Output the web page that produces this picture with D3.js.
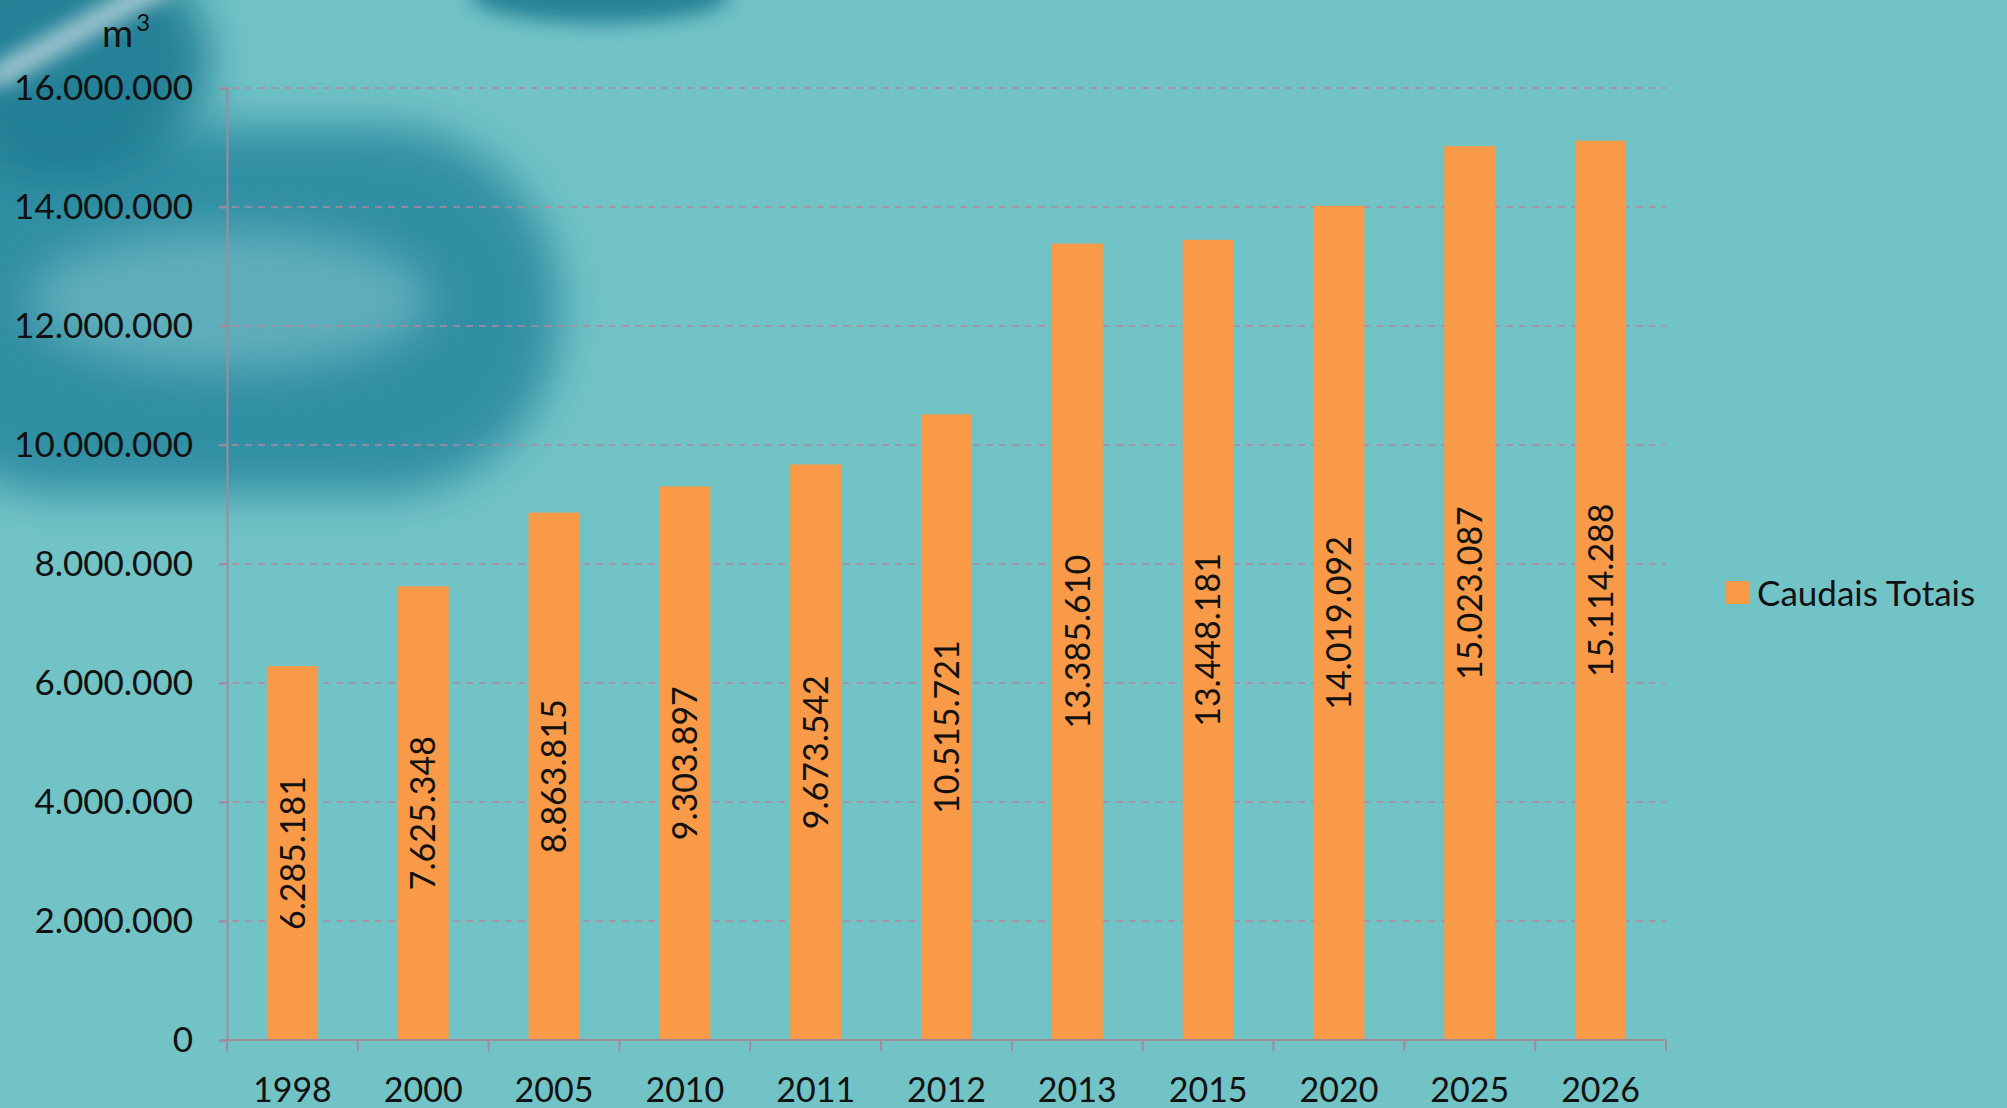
<!DOCTYPE html>
<html>
<head>
<meta charset="utf-8">
<script src="https://cdn.jsdelivr.net/npm/d3@7"></script>
<style>
  body { margin: 0; background: #72c3c6; }
  svg { display: block; }
</style>
</head>
<body>
<div id="chart"></div>
<script>
// chart data
var years   = ["1998", "2000", "2005", "2010", "2011", "2012", "2013", "2015", "2020", "2025", "2026"];
var caudais = [6285181, 7625348, 8863815, 9303897, 9673542, 10515721, 13385610, 13448181, 14019092, 15023087, 15114288];
var yTicks  = [0, 2000000, 4000000, 6000000, 8000000, 10000000, 12000000, 14000000, 16000000];
var seriesName = "Caudais Totais";

var width = 2007, height = 1108;
var margin = {top: 88, right: 341, bottom: 68, left: 227};
var font = "Lato, 'Open Sans', sans-serif";

var fmt = function(v) { return d3.format(",")(v).replace(/,/g, "."); };

var svg = d3.select("#chart").append("svg")
    .attr("width", width)
    .attr("height", height);

// background with soft dark blobs
var defs = svg.append("defs");
defs.append("filter").attr("id", "blur").attr("x", "-50%").attr("y", "-50%").attr("width", "200%").attr("height", "200%")
    .append("feGaussianBlur").attr("stdDeviation", 22);
defs.append("filter").attr("id", "blur2").attr("x", "-50%").attr("y", "-50%").attr("width", "200%").attr("height", "200%")
    .append("feGaussianBlur").attr("stdDeviation", 10);

svg.append("rect").attr("width", width).attr("height", height).attr("fill", "#72c3c6");

var bg = svg.append("g");
bg.append("rect").attr("x", -120).attr("y", 125).attr("width", 680).attr("height", 370).attr("rx", 180)
    .attr("fill", "#2a8aa0").attr("opacity", 0.9).attr("filter", "url(#blur)");
bg.append("ellipse").attr("cx", 230).attr("cy", 300).attr("rx", 200).attr("ry", 70)
    .attr("fill", "#7fc3cc").attr("opacity", 0.6).attr("filter", "url(#blur)");
bg.append("ellipse").attr("cx", 60).attr("cy", 60).attr("rx", 150).attr("ry", 120)
    .attr("fill", "#1f7a92").attr("opacity", 0.9).attr("filter", "url(#blur)");
bg.append("ellipse").attr("cx", 600).attr("cy", -5).attr("rx", 130).attr("ry", 28)
    .attr("fill", "#1f7a92").attr("opacity", 0.9).attr("filter", "url(#blur2)");
bg.append("line").attr("x1", -10).attr("y1", 80).attr("x2", 170).attr("y2", -20)
    .attr("stroke", "#dde9ec").attr("stroke-width", 22).attr("opacity", 0.75).attr("filter", "url(#blur2)");

var plotW = width - margin.left - margin.right;
var plotH = height - margin.top - margin.bottom;

var x = d3.scaleBand().domain(years).range([0, plotW]).paddingInner(0.61).paddingOuter(0.305);
var y = d3.scaleLinear().domain([0, 16000000]).range([plotH, 0]);

var g = svg.append("g").attr("transform", "translate(" + margin.left + "," + margin.top + ")");

// gridlines
g.append("g")
    .selectAll("line")
    .data(yTicks.filter(function(d) { return d > 0; }))
    .enter()
    .append("line")
    .attr("x1", -8)
    .attr("x2", plotW)
    .attr("y1", function(d) { return y(d); })
    .attr("y2", function(d) { return y(d); })
    .attr("stroke", "#b4869f")
    .attr("stroke-width", 1.6)
    .attr("stroke-dasharray", "7,6");

// bars
g.append("g")
    .selectAll("rect")
    .data(caudais)
    .enter()
    .append("rect")
    .attr("x", function(d, i) { return x(years[i]); })
    .attr("y", function(d) { return y(d); })
    .attr("width", x.bandwidth())
    .attr("height", function(d) { return plotH - y(d); })
    .attr("fill", "#f89a48");

// value labels, rotated inside the bars
g.append("g")
    .selectAll("text")
    .data(caudais)
    .enter()
    .append("text")
    .attr("transform", function(d, i) {
        var cx = x(years[i]) + x.bandwidth() / 2;
        var cy = (y(d) + plotH) / 2;
        return "translate(" + cx + "," + cy + ") rotate(-90)";
    })
    .attr("text-anchor", "middle")
    .attr("dy", "0.36em")
    .attr("font-family", font)
    .attr("font-size", 34)
    .attr("fill", "#111")
    .text(function(d) { return fmt(d); });

// y axis
var yAxis = g.append("g")
    .call(d3.axisLeft(y).tickValues(yTicks).tickFormat(fmt).tickSize(8).tickPadding(26));
yAxis.select(".domain").attr("stroke", "#a08a9c").attr("stroke-width", 2);
yAxis.selectAll(".tick line").attr("stroke", "#a08a9c").attr("stroke-width", 2);
yAxis.selectAll("text")
    .attr("font-family", font)
    .attr("font-size", 35)
    .attr("fill", "#111");

// x axis: ticks between categories
var xAxis = g.append("g").attr("transform", "translate(0," + plotH + ")");
xAxis.append("line").attr("x1", 0).attr("x2", plotW)
    .attr("stroke", "#a08a9c").attr("stroke-width", 2);
var bounds = d3.range(years.length + 1).map(function(i) { return i * x.step(); });
xAxis.selectAll(".sep")
    .data(bounds)
    .enter()
    .append("line")
    .attr("x1", function(d) { return d; })
    .attr("x2", function(d) { return d; })
    .attr("y1", 0)
    .attr("y2", 11)
    .attr("stroke", "#a08a9c")
    .attr("stroke-width", 2);
xAxis.selectAll(".lbl")
    .data(years)
    .enter()
    .append("text")
    .attr("x", function(d) { return x(d) + x.bandwidth() / 2; })
    .attr("y", 62)
    .attr("text-anchor", "middle")
    .attr("font-family", font)
    .attr("font-size", 34)
    .attr("fill", "#111")
    .text(function(d) { return d; });

// unit label
var unit = svg.append("text")
    .attr("x", 102)
    .attr("y", 47)
    .attr("font-family", font)
    .attr("font-size", 38)
    .attr("fill", "#111");
unit.append("tspan").text("m");
unit.append("tspan").attr("dx", 3).attr("dy", -16).attr("font-size", 24).text("3");

// legend
var legend = svg.append("g").attr("transform", "translate(1726,581)");
legend.append("rect").attr("width", 23).attr("height", 23).attr("fill", "#f89a48");
legend.append("text")
    .attr("x", 31)
    .attr("y", 12)
    .attr("dy", "0.36em")
    .attr("font-family", font)
    .attr("font-size", 35)
    .attr("fill", "#111")
    .text(seriesName);
</script>
</body>
</html>
